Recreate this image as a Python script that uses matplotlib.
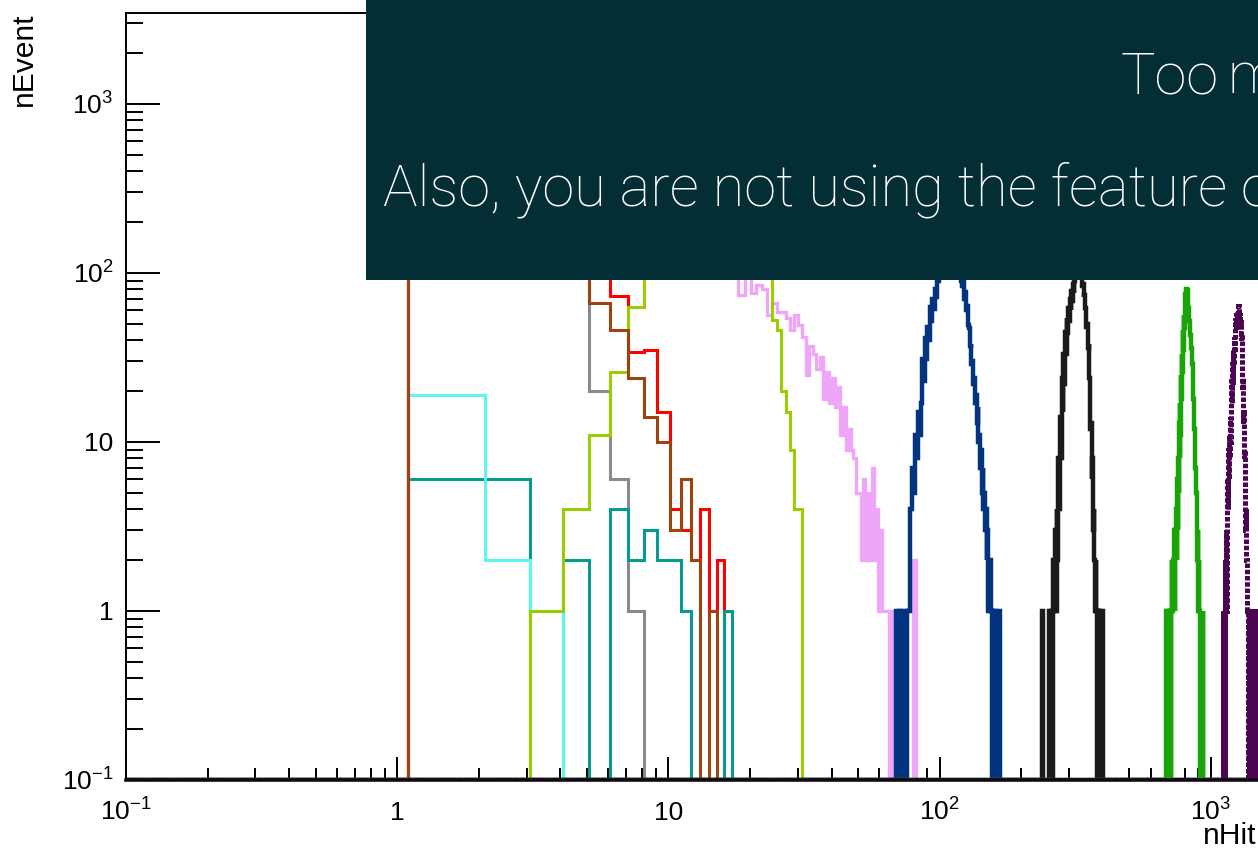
import numpy as np
import matplotlib
matplotlib.use("Agg")
import matplotlib.pyplot as plt
from matplotlib.patches import Rectangle
from matplotlib.ticker import LogLocator, FuncFormatter, NullFormatter

# ---------------------------------------------------------------------------
# nHit distributions, one histogram per sample.
# Bins have lower edges at n + 0.1; each series lists its first n, the bin
# width and the counts per bin (0 = empty bin).
# ---------------------------------------------------------------------------
cyan_start, cyan_width = 1, 1
cyan_counts = [19, 2, 1]

teal_start, teal_width = 1, 1
teal_counts = [6, 6, 0, 2, 0, 4, 2, 3, 2, 2, 1, 0, 0, 0, 0, 1]

red_start, red_width = 1, 1
red_counts = [180, 420, 520, 380, 210, 73, 34, 35, 15, 4, 3, 2, 4, 1, 2]

gray_start, gray_width = 1, 1
gray_counts = [650, 480, 260, 120, 20, 6, 1]

brown_start, brown_width = 1, 1
brown_counts = [1800, 1500, 700, 240, 66, 46, 24, 14, 10, 3, 6, 2, 0, 1]

lime_start, lime_width = 3, 1
lime_counts = [1, 4, 11, 26, 63,
               120, 180, 240, 290, 320, 330, 320, 300, 270, 240, 210, 180,
               150, 130, 110, 100,
               53, 46, 20, 15, 9, 4, 4]

pink_start, pink_width = 1, 1
pink_counts = [110, 160, 210, 250, 280, 300, 310, 300, 290, 270, 250, 230,
               200, 180, 160, 140, 120,
               74, 95, 76, 85, 80, 56, 66, 59, 59, 54, 46, 56, 49, 42, 25, 37,
               33, 27, 32, 18, 26, 17, 24, 16, 21, 11, 16, 9, 12, 9, 8, 5,
               5, 2, 6, 2, 5, 2, 7, 2, 4, 1, 3, 1, 1, 1, 1, 0, 1, 1, 0, 1,
               0, 1, 0, 0, 0, 0, 0, 0, 0, 0, 2, 2]

blue_start, blue_width = 68, 1
blue_counts = [0, 1, 0, 1, 0, 1, 1, 0, 1, 1,                       # 68-77
               4, 7, 5, 11, 8, 15, 11, 17, 31, 23,                 # 78-87
               41, 31, 48, 40, 63, 52, 70, 61, 80, 72,             # 88-97
               89, 95, 98, 105, 112, 118, 126, 130, 137, 135,      # 98-107
               142, 146, 140, 144, 138, 132, 126, 118, 110, 104,   # 108-117
               96, 100, 90, 84, 88, 70, 77, 60, 64, 49,            # 118-127
               47, 37, 38, 29, 30, 22, 24, 17, 19, 13,             # 128-137
               16, 10, 11, 7, 9, 5, 7, 4, 5, 3,                    # 138-147
               4, 2, 3, 1, 2, 2, 1, 1, 0, 1,                       # 148-157
               1, 0, 1, 0, 0, 0, 0, 0, 1]                          # 158-166

black_start, black_width = 236, 2
black_counts = [0, 1, 0, 0, 0, 0, 0, 0, 0, 1,                      # 236-254
                0, 1, 0, 2, 1, 3, 1, 4, 2, 8,                      # 256-274
                4, 14, 8, 24, 15, 33, 22, 45, 33, 54,              # 276-294
                44, 62, 52, 70, 60, 78, 68, 86, 76, 90,            # 296-314
                95, 100, 108, 112, 105, 110, 102, 104, 96, 90,     # 316-334
                84, 86, 72, 74, 62, 60, 48, 50, 36, 38,            # 336-354
                24, 22, 12, 13, 6, 8, 3, 4, 2, 1,                  # 356-374
                2, 1, 1, 0, 1, 0, 1, 0, 1, 0,                      # 376-394
                0, 1, 0]                                           # 396-400

green_start, green_width = 686, 3
green_counts = [1, 0, 1, 0, 0, 1, 0, 1, 1, 0,                      # 686-713
                1, 2, 1, 1, 2, 1, 3, 1, 3, 2,                      # 716-743
                4, 2, 6, 3, 8, 5, 13, 8, 17, 11,                   # 746-773
                25, 18, 33, 26, 46, 35, 56, 47, 68, 58,            # 776-803
                75, 68, 80, 74, 79, 70, 76, 62, 62, 52,            # 806-833
                52, 43, 42, 38, 36, 32, 29, 24, 22, 18,            # 836-863
                16, 12, 11, 8, 7, 5, 5, 3, 4, 2,                   # 866-893
                3, 1, 2, 1, 1, 1, 0, 1, 1, 0,                      # 896-923
                1, 0, 1, 0]                                        # 926-935

purple_start, purple_width = 1100, 4
purple_counts = [0, 0, 1, 0, 1, 1, 0, 2, 1, 3,                     # 1100-1136
                 1, 4, 2, 6, 4, 9, 6, 11, 8, 14,                   # 1140-1176
                 10, 18, 13, 23, 17, 29, 22, 35, 28, 42,           # 1180-1216
                 34, 48, 41, 53, 46, 56, 50, 59, 53, 61,           # 1220-1256
                 56, 64, 55, 60, 52, 58, 47, 53, 40, 44,           # 1260-1296
                 31, 34, 21, 24, 13, 15, 8, 9, 5, 5,               # 1300-1336
                 3, 4, 2, 2, 1, 2, 1, 1, 0, 1,                     # 1340-1376
                 1, 0, 1, 0, 1, 0, 1, 0, 1, 0,                     # 1380-1416
                 1, 0, 1, 0, 1, 0, 1, 0, 1, 0,                     # 1420-1456
                 1, 0, 1, 0, 1, 0, 1, 0, 1, 0, 1]                  # 1460-1500

BIN_OFFSET = 0.1
XMIN, XMAX = 0.1, 1725.0
YMIN, YMAX = 0.1, 3450.0

x_title = "nHit"
y_title = "nEvent"
banner_words_top = ["Too", "many"]
banner_line_bottom = "Also, you are not using the feature of"

# ---------------------------------------------------------------------------
plt.rcParams["font.family"] = ["Liberation Sans", "DejaVu Sans"]
plt.rcParams["mathtext.fontset"] = "custom"
plt.rcParams["mathtext.rm"] = "Liberation Sans"
plt.rcParams["mathtext.it"] = "Liberation Sans"

W, H = 1258, 850
fig = plt.figure(figsize=(W / 100, H / 100), dpi=100)
fig.patch.set_facecolor("white")


def box(x0, y0, x1, y1):
    """pixel box (top-left origin) -> figure fraction rect"""
    return [x0 / W, 1 - y1 / H, (x1 - x0) / W, (y1 - y0) / H]


ax = fig.add_axes(box(126, 13, 1275, 780))
ax.set_xscale("log")
ax.set_yscale("log")
ax.set_xlim(XMIN, XMAX)
ax.set_ylim(YMIN, YMAX)


def draw_hist(start, width, counts, color, lw=2.2, ls="-", z=2):
    counts = np.asarray(counts, dtype=float)
    lo = start + BIN_OFFSET
    edges = lo + width * np.arange(len(counts) + 1)
    full_edges = np.concatenate([[XMIN], edges, [XMAX]])
    full_counts = np.concatenate([[0.0], counts, [0.0]])
    y = np.where(full_counts > 0, full_counts, YMIN)
    ax.stairs(y, full_edges, baseline=None, color=color, lw=lw, ls=ls,
              zorder=z)


draw_hist(red_start, red_width, red_counts, "#ff0000", z=2.0)
draw_hist(gray_start, gray_width, gray_counts, "#8a8a8a", z=2.1)
draw_hist(teal_start, teal_width, teal_counts, "#079a8e", z=2.2)
draw_hist(cyan_start, cyan_width, cyan_counts, "#5ff5f0", z=2.3)
draw_hist(pink_start, pink_width, pink_counts, "#f0a6f8", lw=2.4, z=2.4)
draw_hist(lime_start, lime_width, lime_counts, "#9acc00", z=2.5)
draw_hist(brown_start, brown_width, brown_counts, "#9e420e", z=2.6)
draw_hist(blue_start, blue_width, blue_counts, "#03347f", lw=3.2, z=2.7)
draw_hist(black_start, black_width, black_counts, "#1b1b1b", lw=3.2, z=2.8)
draw_hist(green_start, green_width, green_counts, "#19a508", lw=3.2, z=2.9)
draw_hist(purple_start, purple_width, purple_counts, "#4c0553", lw=3.6,
          ls=(0, (0.9, 0.35)), z=3.0)

# frame and ticks
for side in ("left", "bottom", "top"):
    ax.spines[side].set_linewidth(1.4)
    ax.spines[side].set_color("black")
    ax.spines[side].set_zorder(3.5)
ax.spines["bottom"].set_linewidth(2.6)
ax.spines["bottom"].set_color("#140814")
ax.spines["right"].set_visible(False)


def decade_label(v, pos):
    e = int(round(np.log10(v)))
    if e == 0:
        return "1"
    if e == 1:
        return "10"
    return r"$\mathregular{10^{%d}}$" % e


for axis in (ax.xaxis, ax.yaxis):
    axis.set_major_locator(LogLocator(base=10, numticks=20))
    axis.set_minor_locator(LogLocator(base=10, subs=np.arange(2, 10),
                                      numticks=50))
    axis.set_major_formatter(FuncFormatter(decade_label))
    axis.set_minor_formatter(NullFormatter())

ax.tick_params(axis="x", which="major", direction="in", length=16.5,
               width=1.4, labelsize=19, pad=29, top=False)
ax.tick_params(axis="x", which="minor", direction="in", length=8.3,
               width=1.4, top=False)
ax.tick_params(axis="y", which="major", direction="in", length=24.5,
               width=1.4, labelsize=19, pad=9, right=False)
ax.tick_params(axis="y", which="minor", direction="in", length=12.2,
               width=1.4, right=False)
# decade labels sit on a common baseline below the axis
for lab in ax.get_xticklabels():
    lab.set_verticalalignment("baseline")
for lab in ax.get_yticklabels():
    lab.set_verticalalignment("center_baseline")

# axis titles
fig.text(24 / W, 1 - 13 / H, y_title, rotation=90, ha="center", va="top",
         fontsize=21.6)
fig.text(1203 / W, 1 - 844 / H, x_title, ha="left", va="baseline",
         fontsize=21.6)

# dark notice banner over the upper part of the plot
fig.add_artist(Rectangle((366 / W, 1 - 280 / H), 1.0, 280 / H + 0.01,
                         transform=fig.transFigure, facecolor="#042e35",
                         edgecolor="none", zorder=10))
banner_font = dict(family=["Roboto", "Lato", "Open Sans", "DejaVu Sans"],
                   weight="light", color="white", fontsize=41.7, zorder=11)
fig.text(1120 / W, 1 - 93 / H, banner_words_top[0], ha="left",
         va="baseline", **banner_font)
fig.text(1228 / W, 1 - 93 / H, banner_words_top[1], ha="left",
         va="baseline", **banner_font)
fig.text(383 / W, 1 - 206 / H, banner_line_bottom, ha="left", va="baseline",
         **banner_font)

fig.savefig("out.png", dpi=100)
